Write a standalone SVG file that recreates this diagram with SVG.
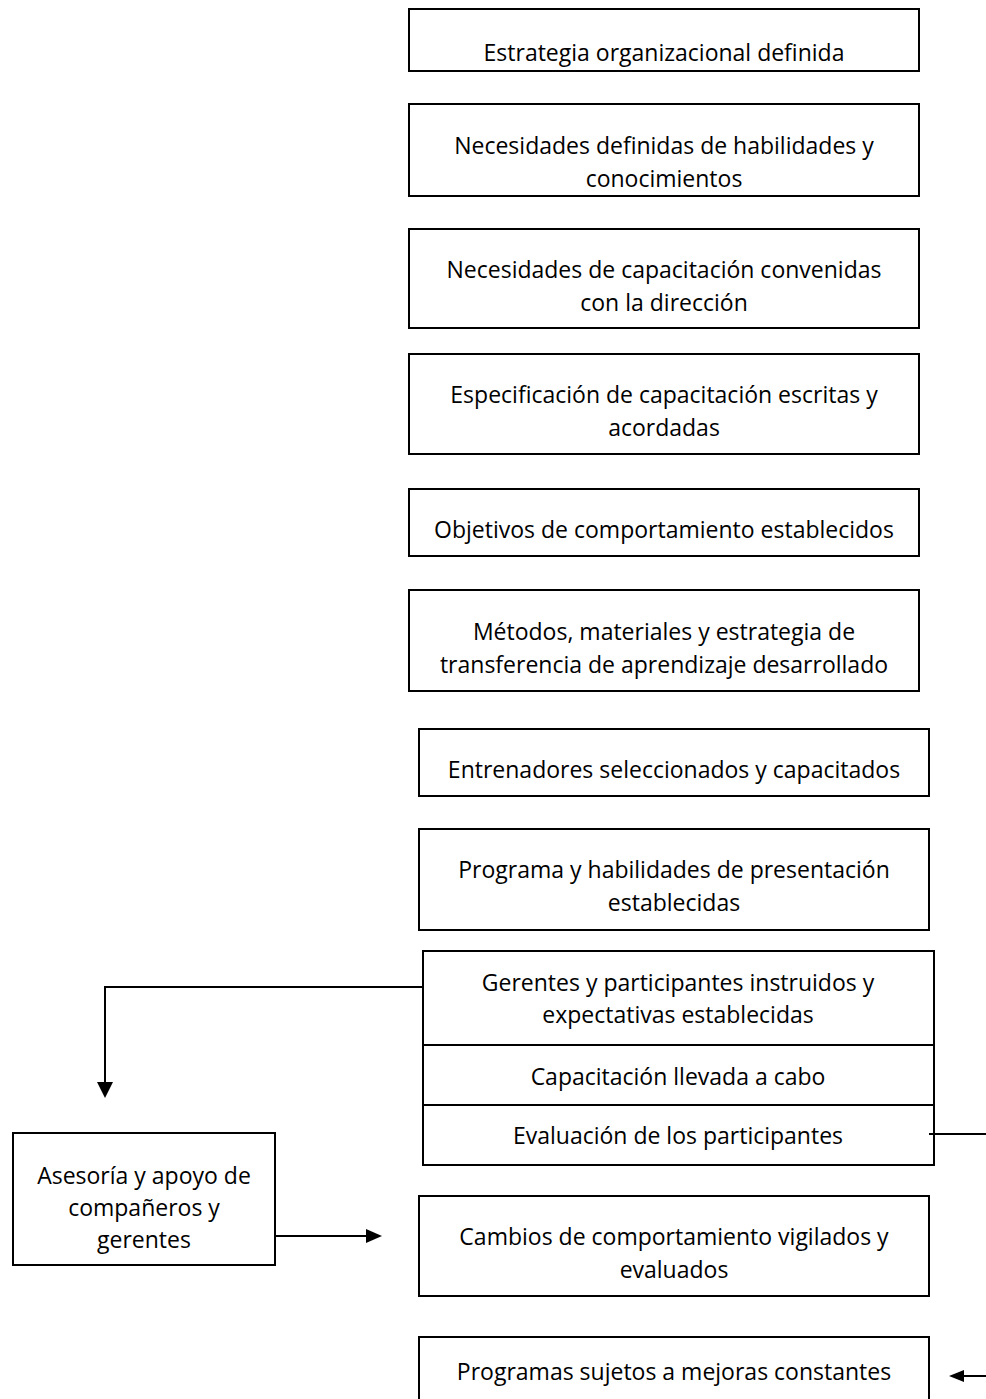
<svg xmlns="http://www.w3.org/2000/svg" width="986" height="1399" viewBox="0 0 986 1399">
<style>
.b{fill:#fff;stroke:#000;stroke-width:2}
.t{font-family:"Open Sans","Liberation Sans",sans-serif;font-size:23px;fill:#000;text-anchor:middle}
.c{fill:none;stroke:#000;stroke-width:2}
</style>
<rect width="986" height="1399" fill="#fff"/>
<g id="n1"><rect class="b" x="409" y="9" width="510" height="62"/><text class="t" x="664" y="61">Estrategia organizacional definida</text></g>
<g id="n2"><rect class="b" x="409" y="104" width="510" height="92"/><text class="t" x="664" y="154">Necesidades definidas de habilidades y</text><text class="t" x="664" y="187">conocimientos</text></g>
<g id="n3"><rect class="b" x="409" y="229" width="510" height="99"/><text class="t" x="664" y="278">Necesidades de capacitación convenidas</text><text class="t" x="664" y="311">con la dirección</text></g>
<g id="n4"><rect class="b" x="409" y="354" width="510" height="100"/><text class="t" x="664" y="403">Especificación de capacitación escritas y</text><text class="t" x="664" y="436">acordadas</text></g>
<g id="n5"><rect class="b" x="409" y="489" width="510" height="67"/><text class="t" x="664" y="538">Objetivos de comportamiento establecidos</text></g>
<g id="n6"><rect class="b" x="409" y="590" width="510" height="101"/><text class="t" x="664" y="640">Métodos, materiales y estrategia de</text><text class="t" x="664" y="673">transferencia de aprendizaje desarrollado</text></g>
<g id="n7"><rect class="b" x="419" y="729" width="510" height="67"/><text class="t" x="674" y="778">Entrenadores seleccionados y capacitados</text></g>
<g id="n8"><rect class="b" x="419" y="829" width="510" height="101"/><text class="t" x="674" y="878">Programa y habilidades de presentación</text><text class="t" x="674" y="911">establecidas</text></g>
<g id="n9"><rect class="b" x="423" y="951" width="511" height="214"/><line class="c" x1="423" y1="1045" x2="934" y2="1045"/><line class="c" x1="423" y1="1105" x2="934" y2="1105"/><text class="t" x="678" y="991">Gerentes y participantes instruidos y</text><text class="t" x="678" y="1023">expectativas establecidas</text><text class="t" x="678" y="1085">Capacitación llevada a cabo</text><text class="t" x="678" y="1144">Evaluación de los participantes</text></g>
<g id="n10"><rect class="b" x="13" y="1133" width="262" height="132"/><text class="t" x="144" y="1184">Asesoría y apoyo de</text><text class="t" x="144" y="1216">compañeros y</text><text class="t" x="144" y="1248">gerentes</text></g>
<g id="n11"><rect class="b" x="419" y="1196" width="510" height="100"/><text class="t" x="674" y="1245">Cambios de comportamiento vigilados y</text><text class="t" x="674" y="1278">evaluados</text></g>
<g id="n12"><rect class="b" x="419" y="1337" width="510" height="80"/><text class="t" x="674" y="1380">Programas sujetos a mejoras constantes</text></g>
<g id="connectors">
<path class="c" d="M423,987 H105 V1082"/>
<path d="M97,1082 L113,1082 L105,1098 z" fill="#000"/>
<line class="c" x1="275" y1="1236" x2="366" y2="1236"/>
<path d="M366,1229 L382,1236 L366,1243 z" fill="#000"/>
<line class="c" x1="929" y1="1134" x2="986" y2="1134"/>
<line class="c" x1="986" y1="1376" x2="964" y2="1376"/>
<path d="M964,1370 L949,1376 L964,1382 z" fill="#000"/>
</g>
</svg>
